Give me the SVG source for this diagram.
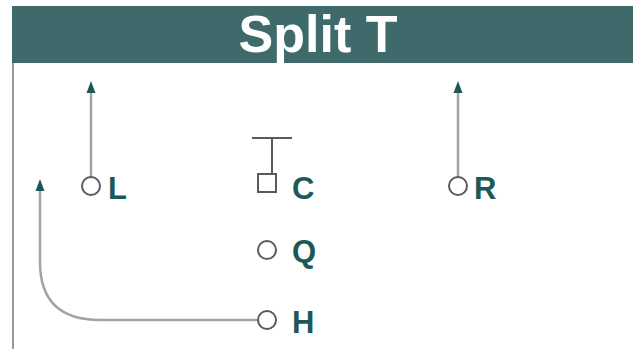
<svg xmlns="http://www.w3.org/2000/svg" width="633" height="349" viewBox="0 0 633 349">
<style>
.lbl{font-family:"Liberation Sans",Arial,sans-serif;font-weight:bold;font-size:31px;fill:#1d5858}
.ttl{font-family:"Liberation Sans",Arial,sans-serif;font-weight:bold;font-size:52px;fill:#ffffff}
.pos{fill:#ffffff;stroke:#5a5a5a;stroke-width:2}
.route{fill:none;stroke:#a0a4a4;stroke-width:2.5}
.blk{fill:none;stroke:#5a5a5a;stroke-width:2}
</style>
<defs>
<marker id="ah" viewBox="0 0 12 10" refX="1" refY="5" markerWidth="12" markerHeight="10" orient="auto" markerUnits="userSpaceOnUse">
<path d="M0,0.5 L12,5 L0,9.5 Z" fill="#1d5858"/>
</marker>
</defs>
<rect x="0" y="0" width="633" height="349" fill="#ffffff"/>
<g id="header">
<rect x="12" y="6" width="621" height="57" fill="#3e6a6b"/>
<text class="ttl" x="318" y="52" text-anchor="middle">Split T</text>
</g>
<line x1="13" y1="63" x2="13" y2="349" stroke="#9a9a9a" stroke-width="2"/>
<g id="connectors">
<path class="route" d="M91,177 V92" marker-end="url(#ah)"/>
<path class="route" d="M458,177 V92" marker-end="url(#ah)"/>
<path class="route" d="M258,320 H100 Q40,320 40,262 V190" marker-end="url(#ah)"/>
<path class="blk" d="M252,138 H292 M272,138 V174"/>
</g>
<g id="node-L">
<circle class="pos" cx="91" cy="186" r="9"/>
<text class="lbl" x="108" y="199">L</text>
</g>
<g id="node-C">
<rect class="pos" x="258" y="174" width="18" height="18"/>
<text class="lbl" x="292" y="199">C</text>
</g>
<g id="node-R">
<circle class="pos" cx="458" cy="186" r="9"/>
<text class="lbl" x="474" y="199">R</text>
</g>
<g id="node-Q">
<circle class="pos" cx="267" cy="250" r="9"/>
<text class="lbl" x="292" y="262">Q</text>
</g>
<g id="node-H">
<circle class="pos" cx="267" cy="320" r="9"/>
<text class="lbl" x="292" y="333">H</text>
</g>
</svg>
